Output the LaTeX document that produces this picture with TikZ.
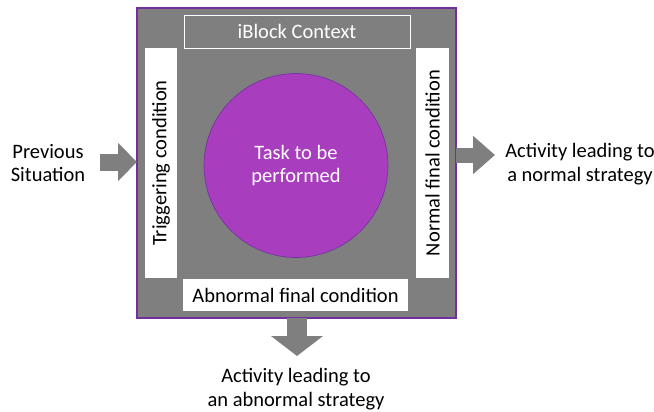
\documentclass[tikz,border=0pt]{standalone}
\usepackage{fontspec}
\setmainfont{Carlito}
\usetikzlibrary{arrows.meta}
\definecolor{boxgray}{HTML}{7F7F7F}
\definecolor{blockpurple}{HTML}{7030A0}
\definecolor{taskpurple}{HTML}{A83DBE}
\tikzset{
  frame/.style={draw=blockpurple, line width=1.2pt, fill=boxgray},
  bar/.style={fill=white, inner sep=0pt, font=\fontsize{20.5}{24}\selectfont},
  label/.style={align=center, font=\fontsize{20.5}{23.5}\selectfont},
  flow/.style={draw=boxgray, line width=#1}
}
\begin{document}
\begin{tikzpicture}[x=1pt, y=-1pt]
    \useasboundingbox (0, 0) rectangle (654, 412);

    \node[frame, minimum width=319pt, minimum height=310pt] (frame) at (296.5, 163) {};
    \node[draw=white, line width=0.6pt, minimum width=226pt, minimum height=33pt, text=white, font=\fontsize{20.5}{24}\selectfont] (context) at (297, 31.5) {iBlock Context};
    \node[bar, rotate=90, minimum width=230pt, minimum height=32pt] (trig) at (161, 163) {Triggering condition};
    \node[bar, rotate=90, minimum width=230pt, minimum height=33pt] (normal) at (432.5, 163) {Normal final condition};
    \node[bar, minimum width=225pt, minimum height=32pt] (abnormal) at (295.5, 295) {Abnormal final condition};
    \node[circle, draw=blockpurple, line width=0.6pt, fill=taskpurple, minimum size=184pt, text=white, label] (task) at (296, 165.5) {Task to be\\performed};

    \node[label] (prev) at (48, 163) {Previous\\Situation};
    \node[label] (normact) at (580, 164) {Activity leading to\\a normal strategy};
    \node[label] (abnact) at (296, 389) {Activity leading to\\an abnormal strategy};

    \coordinate (prevstart) at (100, 162);
    \coordinate (prevend) at (137, 162);
    \coordinate (normstart) at (456, 155);
    \coordinate (normend) at (495, 155);
    \coordinate (abnstart) at (297, 318);
    \coordinate (abnend) at (297, 356);
    \draw[flow=17pt, -{Triangle[width=37pt, length=19pt]}] (prevstart) -- (prevend);
    \draw[flow=15pt, -{Triangle[width=37pt, length=22pt]}] (normstart) -- (normend);
    \draw[flow=20pt, -{Triangle[width=51pt, length=20pt]}] (abnstart) -- (abnend);
\end{tikzpicture}
\end{document}
